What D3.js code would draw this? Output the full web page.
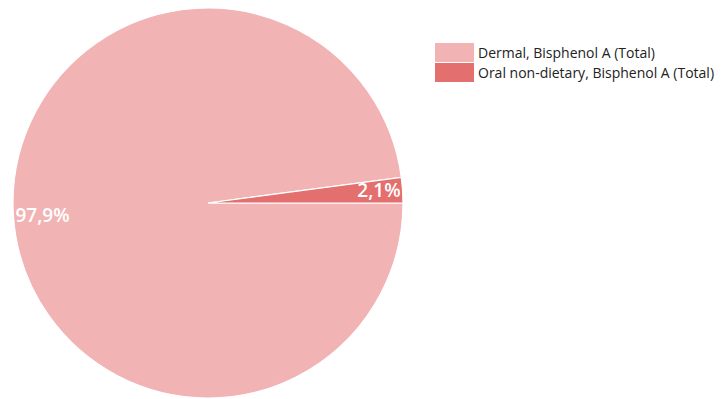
<!DOCTYPE html>
<html>
<head>
<meta charset="utf-8">
<script src="https://cdn.jsdelivr.net/npm/d3@7"></script>
<style>
  body { margin: 0; background: #fff; }
  svg { display: block; }
</style>
</head>
<body>
<div id="wrapper"></div>
<script>
// data
const categories = ["Dermal, Bisphenol A (Total)", "Oral non-dietary, Bisphenol A (Total)"]
const shares = [97.9, 2.1]
const labels = ["97,9%", "2,1%"]
const colors = ["#f2b3b4", "#e36f6f"]

const width = 723
const height = 399
const radius = 195
const cx = 208
const cy = 203

const svg = d3.select("#wrapper")
  .append("svg")
  .attr("width", width)
  .attr("height", height)

const data = categories.map((c, i) => ({ name: c, value: shares[i], label: labels[i], color: colors[i] }))

// start at 3 o'clock, go clockwise
const pie = d3.pie()
  .value(d => d.value)
  .sort(null)
  .startAngle(Math.PI / 2)
  .endAngle(Math.PI / 2 + 2 * Math.PI)

const arc = d3.arc().innerRadius(0).outerRadius(radius)

const g = svg.append("g").attr("transform", `translate(${cx},${cy})`)

const arcs = pie(data)

g.selectAll("path")
  .data(arcs)
  .join("path")
  .attr("d", arc)
  .attr("fill", d => d.data.color)
  .attr("stroke", "#fff")
  .attr("stroke-width", 1.2)

// labels sit at the outer edge along the mid angle
g.selectAll("text.lbl")
  .data(arcs)
  .join("text")
  .attr("class", "lbl")
  .each(function(d) {
    const a = (d.startAngle + d.endAngle) / 2
    const r = radius - 2
    const x = Math.sin(a) * r
    const y = -Math.cos(a) * r
    d3.select(this)
      .attr("x", x)
      .attr("y", y)
      .attr("text-anchor", x < 0 ? "start" : "end")
  })
  .attr("dy", "0.35em")
  .attr("fill", "#fff")
  .style("font-family", "'Open Sans', sans-serif")
  .style("font-size", "19px")
  .style("font-weight", "600")
  .text(d => d.data.label)

// legend
const legend = svg.append("g").attr("transform", "translate(435,43)")

const items = legend.selectAll("g")
  .data(data)
  .join("g")
  .attr("transform", (d, i) => `translate(0,${i * 20})`)

items.append("rect")
  .attr("width", 39)
  .attr("height", 19)
  .attr("fill", d => d.color)

items.append("text")
  .attr("x", 43)
  .attr("y", 10)
  .attr("dy", "0.35em")
  .attr("fill", "#222")
  .style("font-family", "'Open Sans', sans-serif")
  .style("font-size", "14px")
  .text(d => d.name)
</script>
</body>
</html>
